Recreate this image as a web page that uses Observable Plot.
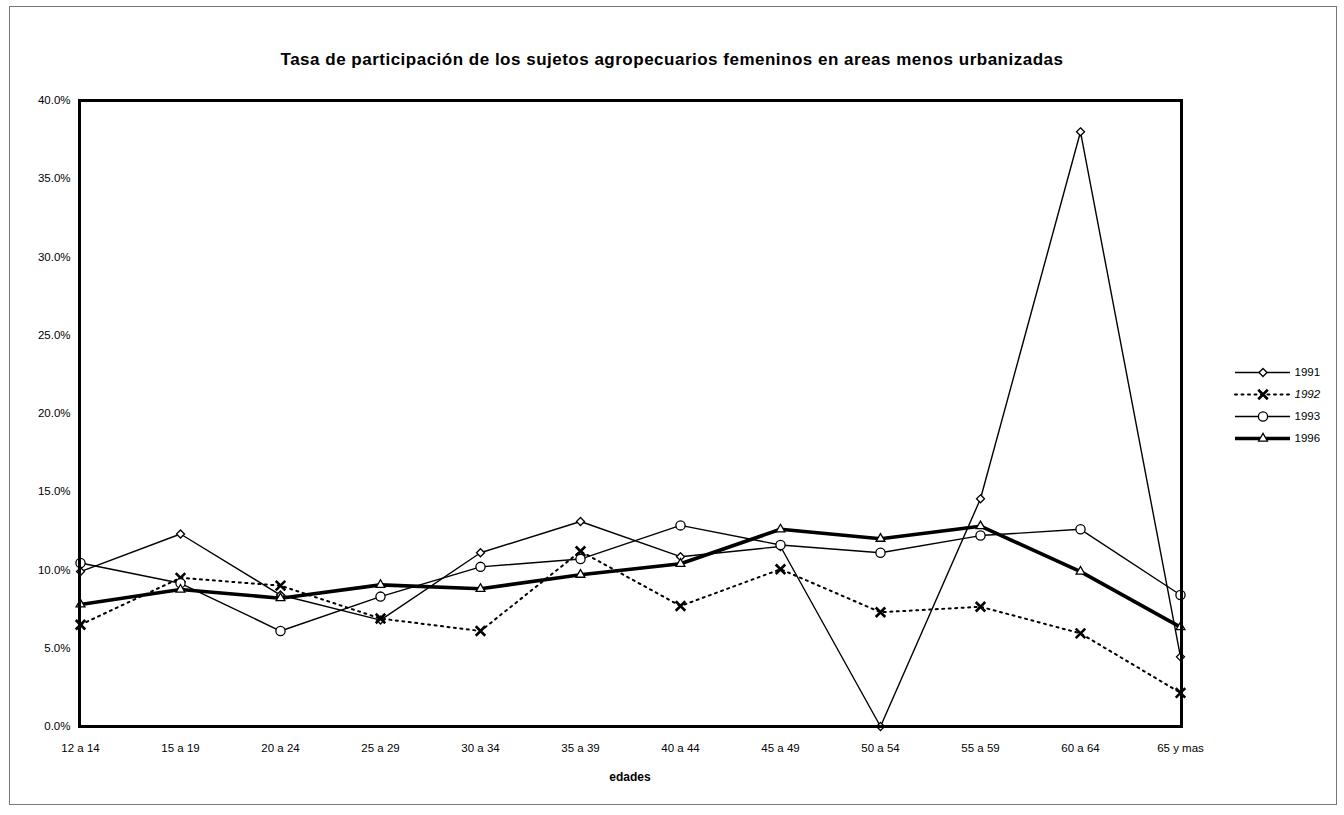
<!DOCTYPE html>
<html><head><meta charset="utf-8">
<script src="https://cdn.jsdelivr.net/npm/d3@7"></script>
<script src="https://cdn.jsdelivr.net/npm/@observablehq/plot@0.6"></script>
<style>
body{margin:0;background:#fff;}
#wrap{position:relative;width:1344px;height:815px;overflow:hidden;font-family:"Liberation Sans",Arial,sans-serif;color:#000;}
#border{position:absolute;left:9px;top:6px;width:1328px;height:799px;border:1px solid #777;box-sizing:border-box;}
#title{position:absolute;top:50px;left:0;width:1344px;text-align:center;font-weight:bold;font-size:17px;letter-spacing:0.5px;}
#xlabel{position:absolute;top:770px;left:530px;width:200px;text-align:center;font-weight:bold;font-size:12px;}
#chart{position:absolute;left:0;top:0;}
#legend{position:absolute;left:1225px;top:355px;}
</style></head>
<body><div id="wrap">
<div id="border"></div>
<div id="chart"></div>
<div id="title">Tasa de participación de los sujetos agropecuarios femeninos en areas menos urbanizadas</div>
<div id="xlabel">edades</div>
<div id="legend"></div>
</div>
<script>
const categories = ["12 a 14","15 a 19","20 a 24","25 a 29","30 a 34","35 a 39","40 a 44","45 a 49","50 a 54","55 a 59","60 a 64","65 y mas"];
const seriesNames = ["1991","1992","1993","1996"];
const s1991 = [9.9, 12.3, 8.4, 6.8, 11.1, 13.1, 10.85, 11.5, 0.0, 14.55, 38.0, 4.45];
const s1992 = [6.5, 9.5, 9.0, 6.9, 6.1, 11.2, 7.7, 10.05, 7.3, 7.65, 5.95, 2.15];
const s1993 = [10.45, 9.15, 6.1, 8.3, 10.2, 10.7, 12.85, 11.6, 11.1, 12.2, 12.6, 8.4];
const s1996 = [7.8, 8.75, 8.2, 9.05, 8.8, 9.7, 10.4, 12.6, 12.0, 12.8, 9.9, 6.35];
const yTicks = [0, 5, 10, 15, 20, 25, 30, 35, 40];

const seriesValues = [s1991, s1992, s1993, s1996];
const rows = seriesNames.flatMap((s, i) => categories.map((c, j) => ({series: s, cat: c, value: seriesValues[i][j]})));

const styles = {
  "1991": {strokeWidth: 1.4, dash: null, symbol: "diamond2", r: 3.6, fill: "white", mstroke: 1.3},
  "1992": {strokeWidth: 2, dash: "2,4.5", symbol: "times", r: 4.4, fill: "none", mstroke: 2.6},
  "1993": {strokeWidth: 1.4, dash: null, symbol: "circle", r: 4.6, fill: "white", mstroke: 1.3},
  "1996": {strokeWidth: 3.6, dash: null, symbol: "triangle2", r: 4.2, fill: "white", mstroke: 1.3}
};
const font = '"Liberation Sans", Arial, sans-serif';

const marks = [];
for (const s of seriesNames) {
  const st = styles[s];
  const data = rows.filter(d => d.series === s);
  marks.push(Plot.line(data, {x: "cat", y: "value", stroke: "black", strokeWidth: st.strokeWidth, strokeDasharray: st.dash, strokeLinecap: st.dash ? "round" : "butt"}));
}
for (const s of seriesNames) {
  const st = styles[s];
  const data = rows.filter(d => d.series === s);
  marks.push(Plot.dot(data, {x: "cat", y: "value", symbol: st.symbol, r: st.r, stroke: "black", fill: st.fill, strokeWidth: st.mstroke}));
}

const chart = Plot.plot({
  width: 1344, height: 815,
  marginLeft: 79, marginRight: 163, marginTop: 100, marginBottom: 89,
  style: {fontFamily: font, fontSize: "11.5px", background: "transparent", color: "black"},
  x: {type: "point", domain: categories, padding: 0},
  y: {domain: [0, 40]},
  marks: [
    Plot.axisX({tickSize: 0, tickPadding: 17, label: null, fontSize: 11.5}),
    Plot.axisY({ticks: yTicks, tickFormat: d => d.toFixed(1) + "%", tickSize: 0, tickPadding: 9, label: null, fontSize: 11.5}),
    ...marks,
    Plot.frame({stroke: "black", strokeWidth: 3})
  ]
});
document.getElementById("chart").append(chart);

const legMarks = [];
for (const s of seriesNames) {
  const st = styles[s];
  legMarks.push(Plot.ruleY([s], {y: d => d, x1: 0, x2: 1, stroke: "black", strokeWidth: st.strokeWidth, strokeDasharray: st.dash, strokeLinecap: st.dash ? "round" : "butt"}));
  legMarks.push(Plot.dot([s], {y: d => d, x: 0.5, symbol: st.symbol, r: st.r, stroke: "black", fill: st.fill, strokeWidth: st.mstroke}));
  legMarks.push(Plot.text([s], {y: d => d, x: 1, text: d => d, dx: 4, textAnchor: "start", fontSize: 11.5, fontStyle: s === "1992" ? "italic" : "normal", fill: "black"}));
}
const legend = Plot.plot({
  width: 115, height: 100,
  marginLeft: 10, marginRight: 50, marginTop: 17, marginBottom: 17,
  style: {fontFamily: font, background: "transparent", color: "black"},
  x: {domain: [0, 1], axis: null},
  y: {type: "point", domain: seriesNames, padding: 0, axis: null},
  marks: legMarks
});
document.getElementById("legend").append(legend);
</script>
</body></html>
